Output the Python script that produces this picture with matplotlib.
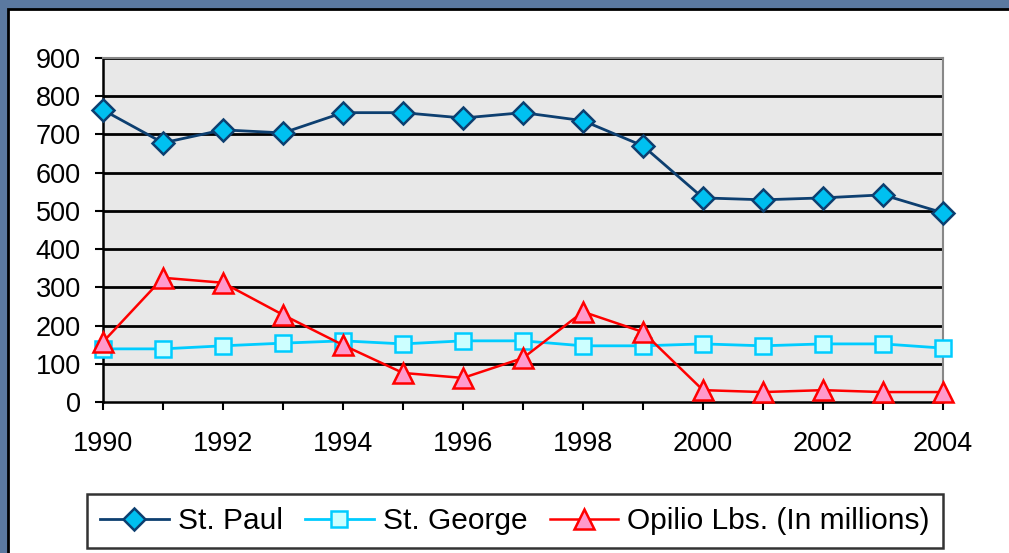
import matplotlib
matplotlib.use("Agg")
import matplotlib.pyplot as plt
from matplotlib.patches import Rectangle

years = list(range(1990, 2005))
st_paul = [764, 678, 712, 704, 757, 757, 743, 757, 736, 670, 534, 529, 534, 542, 495]
st_george = [139, 139, 147, 154, 160, 152, 160, 160, 147, 147, 152, 147, 152, 152, 141]
opilio = [157, 325, 312, 228, 149, 76, 63, 115, 236, 183, 31, 26, 31, 26, 26]
y_ticks = [0, 100, 200, 300, 400, 500, 600, 700, 800, 900]
x_ticks = [1990, 1992, 1994, 1996, 1998, 2000, 2002, 2004]
labels = ["St. Paul", "St. George", "Opilio Lbs. (In millions)"]

plt.rcParams['font.family'] = ['Liberation Sans', 'DejaVu Sans']

fig = plt.figure(figsize=(10.09, 5.53), dpi=100)
fig.patch.set_facecolor('#5b79a0')

# white panel with black border
panel = Rectangle((8 / 1009, -0.1), 1.2, 1 - 9 / 553 + 0.1, transform=fig.transFigure,
                  facecolor='white', edgecolor='black', linewidth=2.0, zorder=-5)
fig.patches.append(panel)

ax = fig.add_axes([103 / 1009, 1 - 402 / 553, 840 / 1009, 344 / 553])
ax.set_zorder(2)
ax.set_facecolor('#e8e8e8')

ax.set_xlim(1990, 2004)
ax.set_ylim(0, 900)
ax.set_yticks(y_ticks)
ax.set_xticks(x_ticks)
ax.set_xticks(years, minor=True)

for y in y_ticks[1:]:
    ax.axhline(y, color='black', linewidth=2.0, zorder=1)

ax.plot(years, st_paul, color='#0d3f70', linewidth=2.0, marker='D', markersize=11,
        markerfacecolor='#00c0f0', markeredgecolor='#0d3f70', markeredgewidth=1.8,
        label=labels[0], zorder=3, clip_on=False)
ax.plot(years, st_george, color='#00ccff', linewidth=2.0, marker='s', markersize=12,
        markerfacecolor='#ccffff', markeredgecolor='#00ccff', markeredgewidth=1.8,
        label=labels[1], zorder=3, clip_on=False)
ax.plot(years, opilio, color='#ff0000', linewidth=1.8, marker='^', markersize=14,
        markerfacecolor='#ff99cc', markeredgecolor='#ff0000', markeredgewidth=1.8,
        label=labels[2], zorder=4, clip_on=False)

for side in ['top', 'right']:
    ax.spines[side].set_color('#888888')
    ax.spines[side].set_linewidth(1.5)
for side in ['left', 'bottom']:
    ax.spines[side].set_color('black')
    ax.spines[side].set_linewidth(1.8)

ax.tick_params(axis='y', which='major', direction='out', length=6, width=1.5,
               labelsize=19.5, pad=10)
ax.tick_params(axis='x', which='both', direction='out', length=6, width=1.5,
               labelsize=19.5, pad=15)

leg = fig.legend(loc='center', bbox_to_anchor=(515 / 1009, 1 - 521 / 553), ncol=3,
                 fontsize=21.5, frameon=True, fancybox=False, handlelength=2.3,
                 handletextpad=0.3, columnspacing=0.75, borderpad=0.45)
leg.get_frame().set_edgecolor('black')
leg.get_frame().set_linewidth(1.8)

fig.savefig('out.png', dpi=100, facecolor=fig.get_facecolor())
